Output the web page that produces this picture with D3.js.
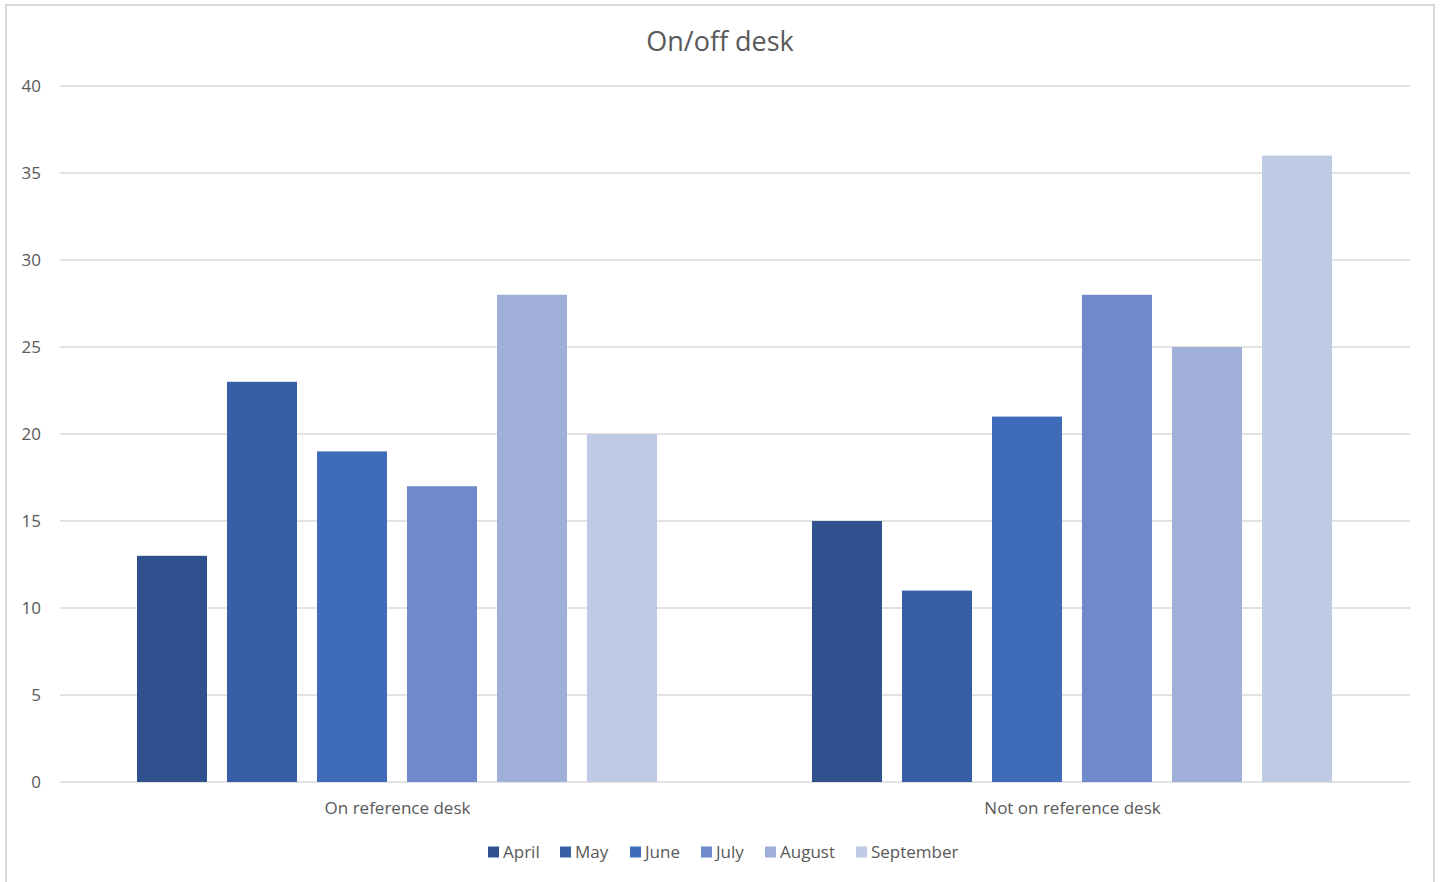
<!DOCTYPE html>
<html>
<head>
<meta charset="utf-8">
<script src="https://cdn.jsdelivr.net/npm/d3@7"></script>
<style>
  html, body { margin: 0; padding: 0; background: #fff; }
  svg { display: block; }
  text { font-family: "Open Sans", "Noto Sans", sans-serif; fill: #595959; }
</style>
</head>
<body>
<svg id="chart" width="1441" height="882"></svg>
<script>
// Monthly counts of questions answered on and away from the reference desk
const categories = ["On reference desk", "Not on reference desk"];
const months = ["April", "May", "June", "July", "August", "September"];
const april = [13, 15];
const may = [23, 11];
const june = [19, 21];
const july = [17, 28];
const august = [28, 25];
const september = [20, 36];
const yTicks = [0, 5, 10, 15, 20, 25, 30, 35, 40];
const monthColors = ["#2F528F", "#385EA7", "#3E6CBA", "#6F89CA", "#A0AFD8", "#BFCAE4"];

const seriesValues = [april, may, june, july, august, september];

const svg = d3.select("#chart");
const plot = { left: 60, right: 1410, top: 86, bottom: 782 };

// chart frame
svg.append("rect")
  .attr("x", 6).attr("y", 5)
  .attr("width", 1428).attr("height", 890)
  .attr("fill", "#fff")
  .attr("stroke", "#d9d9d9").attr("stroke-width", 2);

const y = d3.scaleLinear().domain([0, 40]).range([plot.bottom, plot.top]);

const x0 = d3.scaleBand().domain(categories)
  .range([plot.left, plot.right]).paddingInner(0).paddingOuter(0);

// six 70px bars with 20px gaps, centred in each group
const x1 = d3.scaleBand().domain(months)
  .range([77, 77 + 520]).paddingInner(20 / 90).paddingOuter(0);

// gridlines
const grid = svg.append("g");
grid.selectAll("line").data(yTicks).join("line")
  .attr("x1", plot.left).attr("x2", plot.right)
  .attr("y1", d => y(d)).attr("y2", d => y(d))
  .attr("stroke", "#d9d9d9").attr("stroke-width", d => d === 0 ? 1.5 : 1.3);

// y axis labels
const yAxis = d3.axisLeft(y).tickValues(yTicks).tickSize(0).tickPadding(0);
const yg = svg.append("g").attr("transform", `translate(41,0)`).call(yAxis);
yg.select(".domain").remove();
yg.selectAll("text")
  .attr("font-size", 17)
  .attr("text-anchor", "end")
  .attr("dy", "0.35em")
  .style("fill", "#595959")
  .style("font-family", "'Open Sans', sans-serif");

// bars
const rows = [];
months.forEach((m, i) => {
  categories.forEach((c, j) => {
    rows.push({ month: m, cat: c, value: seriesValues[i][j], color: monthColors[i] });
  });
});

svg.append("g").selectAll("rect").data(rows).join("rect")
  .attr("x", d => x0(d.cat) + x1(d.month))
  .attr("width", x1.bandwidth())
  .attr("y", d => y(d.value))
  .attr("height", d => y(0) - y(d.value))
  .attr("fill", d => d.color);

// category labels
const xAxis = d3.axisBottom(x0).tickSize(0).tickPadding(0);
const xg = svg.append("g").attr("transform", `translate(0,${plot.bottom + 26})`).call(xAxis);
xg.select(".domain").remove();
xg.selectAll("text")
  .attr("font-size", 17)
  .attr("dy", "0.35em")
  .style("fill", "#595959")
  .style("font-family", "'Open Sans', sans-serif");

// title
svg.append("text")
  .attr("x", 720).attr("y", 51)
  .attr("text-anchor", "middle")
  .attr("font-size", 27)
  .text("On/off desk");

// legend
const legendX = [488, 560, 630, 701, 765, 856];
const legend = svg.append("g");
months.forEach((m, i) => {
  const g = legend.append("g").attr("transform", `translate(${legendX[i]},852)`);
  g.append("rect").attr("x", 0).attr("y", -5.5).attr("width", 11).attr("height", 11)
    .attr("fill", monthColors[i]);
  g.append("text").attr("x", 15).attr("y", 0).attr("dy", "0.35em")
    .attr("font-size", 17).text(m);
});
</script>
</body>
</html>
